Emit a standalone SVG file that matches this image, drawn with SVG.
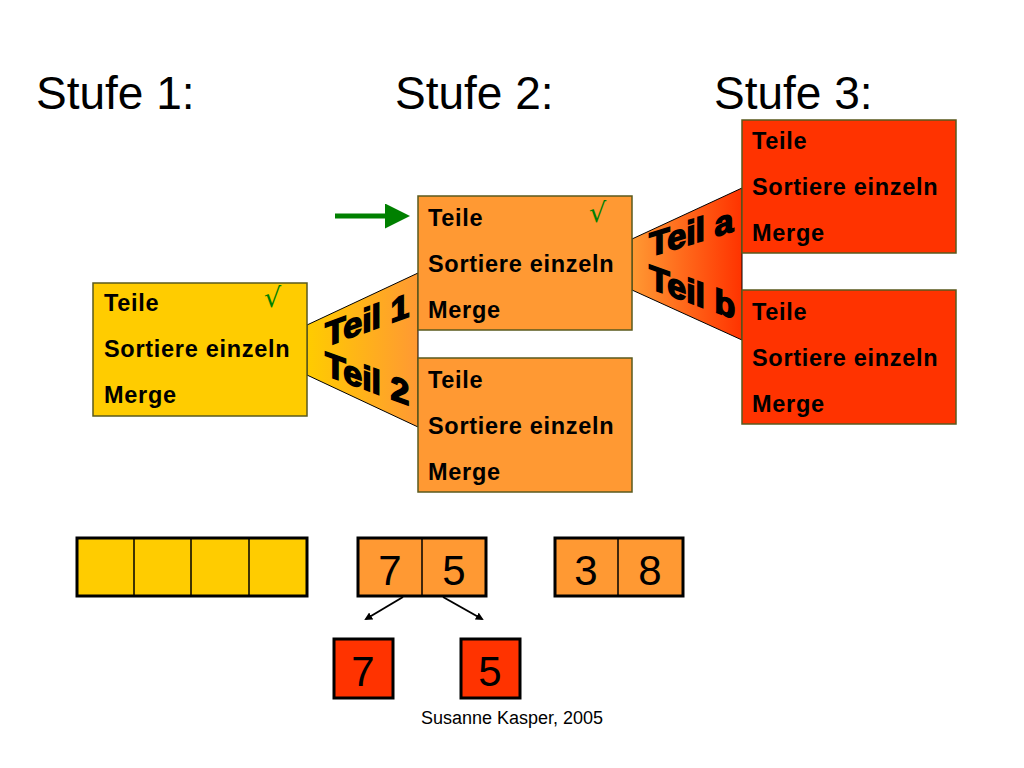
<svg xmlns="http://www.w3.org/2000/svg" width="1024" height="768" viewBox="0 0 1024 768">
<defs>
<style>
.title{font-family:"Liberation Sans",Arial,sans-serif;font-size:46px;fill:#000}
.lbl{font-family:"Liberation Sans",Arial,sans-serif;font-size:23.5px;font-weight:bold;fill:#000;letter-spacing:0.7px}
.chk{font-family:"DejaVu Serif","Liberation Serif",serif;font-size:27px;fill:#008000}
.box{stroke:#5a5a1e;stroke-width:1.5}
.teil{font-family:"Liberation Sans",Arial,sans-serif;font-size:34px;font-weight:bold;fill:#000;stroke:#000;stroke-width:1.6}
.num{font-family:"Liberation Sans",Arial,sans-serif;font-size:42px;fill:#000;text-anchor:middle}
.arr{stroke:#000;stroke-width:2;fill:none}
.cell{stroke:#000;stroke-width:1.5}
</style>
<linearGradient id="g1" x1="0" y1="0" x2="1" y2="0"><stop offset="0" stop-color="#FFCC00"/><stop offset="1" stop-color="#FF9933"/></linearGradient>
<linearGradient id="g2" x1="0" y1="0" x2="1" y2="0"><stop offset="0" stop-color="#FF9933"/><stop offset="1" stop-color="#FF3300"/></linearGradient>
<marker id="ga" markerWidth="5" markerHeight="5" refX="3" refY="2.5" orient="auto" markerUnits="strokeWidth"><path d="M0,0 L5,2.5 L0,5 Z" fill="#008000"/></marker>
<marker id="ka" markerWidth="8" markerHeight="8" refX="6" refY="4" orient="auto" markerUnits="userSpaceOnUse"><path d="M0,0 L8,4 L0,8 Z" fill="#000"/></marker>
</defs>
<rect width="1024" height="768" fill="#fff"/>
<text class="title" x="36" y="109">Stufe 1:</text>
<text class="title" x="395" y="109">Stufe 2:</text>
<text class="title" x="714" y="109">Stufe 3:</text>
<g id="connectors">
<polygon points="307,325 418,273 418,427 307,375" fill="url(#g1)" stroke="#000" stroke-width="1"/>
<polygon points="632,239 742,188 742,340 632,290" fill="url(#g2)" stroke="#000" stroke-width="1"/>
<line x1="335" y1="216" x2="400" y2="216" stroke="#008000" stroke-width="5" marker-end="url(#ga)"/>
<line x1="403" y1="597" x2="366" y2="619" class="arr" marker-end="url(#ka)"/>
<line x1="443" y1="597" x2="482" y2="619" class="arr" marker-end="url(#ka)"/>
</g>
<g id="teil-labels">
<text class="teil" transform="translate(325,347) skewY(-20)">Teil 1</text>
<text class="teil" transform="translate(325,375) skewY(20)">Teil 2</text>
<text class="teil" transform="translate(649,257) skewY(-17)">Teil a</text>
<text class="teil" transform="translate(649,288) skewY(20)">Teil b</text>
</g>
<g id="box1">
<rect class="box" x="93" y="283" width="214" height="133" fill="#FFCC00"/>
<text class="lbl" x="104" y="311">Teile</text>
<text class="chk" x="264" y="307">√</text>
<text class="lbl" x="104" y="357">Sortiere einzeln</text>
<text class="lbl" x="104" y="403">Merge</text>
</g>
<g id="box2">
<rect class="box" x="418" y="196" width="214" height="134" fill="#FF9933"/>
<text class="lbl" x="428" y="226">Teile</text>
<text class="chk" x="589" y="222">√</text>
<text class="lbl" x="428" y="272">Sortiere einzeln</text>
<text class="lbl" x="428" y="318">Merge</text>
</g>
<g id="box3">
<rect class="box" x="418" y="358" width="214" height="134" fill="#FF9933"/>
<text class="lbl" x="428" y="388">Teile</text>
<text class="lbl" x="428" y="434">Sortiere einzeln</text>
<text class="lbl" x="428" y="480">Merge</text>
</g>
<g id="box4">
<rect class="box" x="742" y="120" width="214" height="133" fill="#FF3300"/>
<text class="lbl" x="752" y="149">Teile</text>
<text class="lbl" x="752" y="195">Sortiere einzeln</text>
<text class="lbl" x="752" y="241">Merge</text>
</g>
<g id="box5">
<rect class="box" x="742" y="290" width="214" height="134" fill="#FF3300"/>
<text class="lbl" x="752" y="320">Teile</text>
<text class="lbl" x="752" y="366">Sortiere einzeln</text>
<text class="lbl" x="752" y="412">Merge</text>
</g>
<g id="array4">
<rect x="77" y="538" width="230" height="58" fill="#FFCC00" stroke="#000" stroke-width="3"/>
<line class="cell" x1="134" y1="538" x2="134" y2="596"/>
<line class="cell" x1="191" y1="538" x2="191" y2="596"/>
<line class="cell" x1="249" y1="538" x2="249" y2="596"/>
</g>
<g id="array75">
<rect x="358" y="538" width="128" height="58" fill="#FF9933" stroke="#000" stroke-width="3"/>
<line class="cell" x1="422" y1="538" x2="422" y2="596"/>
<text class="num" x="390" y="585">7</text>
<text class="num" x="454" y="585">5</text>
</g>
<g id="array38">
<rect x="555" y="538" width="128" height="58" fill="#FF9933" stroke="#000" stroke-width="3"/>
<line class="cell" x1="618" y1="538" x2="618" y2="596"/>
<text class="num" x="586" y="585">3</text>
<text class="num" x="650" y="585">8</text>
</g>
<g id="cell7">
<rect x="334" y="639" width="59" height="59" fill="#FF3300" stroke="#000" stroke-width="3"/>
<text class="num" x="363" y="686">7</text>
</g>
<g id="cell5">
<rect x="461" y="639" width="59" height="59" fill="#FF3300" stroke="#000" stroke-width="3"/>
<text class="num" x="490" y="686">5</text>
</g>
<text x="512" y="724" text-anchor="middle" font-family="Liberation Sans, Arial, sans-serif" font-size="18" fill="#000">Susanne Kasper, 2005</text>
</svg>
